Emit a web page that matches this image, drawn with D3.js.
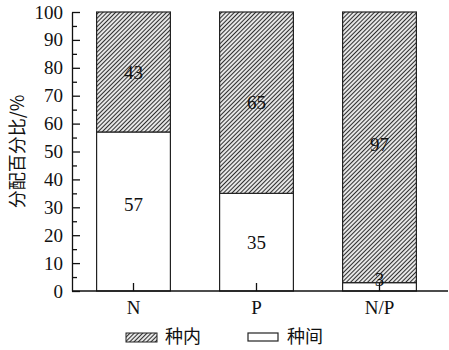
<!DOCTYPE html>
<html>
<head>
<meta charset="utf-8">
<script src="https://cdn.jsdelivr.net/npm/d3@7"></script>
<style>
  html, body { margin: 0; padding: 0; background: #fff; }
  svg { display: block; }
  .num { font-family: "Liberation Serif", "Times New Roman", Tinos, "DejaVu Serif", serif; }
  .cjk { font-family: "Noto Sans CJK SC", "Noto Sans", sans-serif; }
</style>
</head>
<body>
<svg id="chart" width="449" height="350"></svg>
<script>
// Categories and the two components of each stacked bar (percent)
const categories = ["N", "P", "N/P"];
const interValues = [57, 35, 3];   // 种间 (bottom, white)
const intraValues = [43, 65, 97];  // 种内 (top, hatched)
// Where each value label sits, in axis units
const interLabelAt = [31, 17.5, 4];
const intraLabelAt = [78.5, 67.5, 52.5];
const yTicks = [0, 10, 20, 30, 40, 50, 60, 70, 80, 90, 100];
const yMinorTicks = [5, 15, 25, 35, 45, 55, 65, 75, 85, 95];
const legendLabels = ["种内", "种间"];
const yTitle = "分配百分比/%";

(function () {
const svg = d3.select("#chart");

const plotLeft = 72, plotRight = 441, plotTop = 12, plotBottom = 291;

const x = d3.scaleBand().domain(categories).range([plotLeft, plotRight]).paddingInner(0.4).paddingOuter(0.2);
const y = d3.scaleLinear().domain([0, 100]).range([plotBottom, plotTop]);

// Hatch pattern for the 种内 component
const defs = svg.append("defs");
const pat = defs.append("pattern")
  .attr("id", "hatch")
  .attr("patternUnits", "userSpaceOnUse")
  .attr("width", 3).attr("height", 3)
  .attr("patternTransform", "rotate(45)");
pat.append("rect").attr("width", 3).attr("height", 3).attr("fill", "#e6e6e6");
pat.append("line").attr("x1", 0).attr("y1", 0).attr("x2", 0).attr("y2", 3)
  .attr("stroke", "#1a1a1a").attr("stroke-width", 1.8);

const rows = categories.map((c, i) => ({ c, inter: interValues[i], intra: intraValues[i], i }));

// Bottom segment (种间)
svg.append("g").selectAll("rect").data(rows).join("rect")
  .attr("x", d => x(d.c)).attr("width", x.bandwidth())
  .attr("y", d => y(d.inter)).attr("height", d => y(0) - y(d.inter))
  .attr("fill", "#fff").attr("stroke", "#222").attr("stroke-width", 1.2);

// Top segment (种内)
svg.append("g").selectAll("rect").data(rows).join("rect")
  .attr("x", d => x(d.c)).attr("width", x.bandwidth())
  .attr("y", d => y(d.inter + d.intra)).attr("height", d => y(d.inter) - y(d.inter + d.intra))
  .attr("fill", "url(#hatch)").attr("stroke", "#222").attr("stroke-width", 1.2);

// Value labels
const lab = svg.append("g").attr("class", "num").attr("font-size", 19)
  .attr("text-anchor", "middle").attr("fill", "#111");
lab.selectAll("text.inter").data(rows).join("text").attr("class", "inter num")
  .attr("x", d => x(d.c) + x.bandwidth() / 2).attr("y", d => y(interLabelAt[d.i]))
  .attr("dy", "0.35em").text(d => d.inter);
lab.selectAll("text.intra").data(rows).join("text").attr("class", "intra num")
  .attr("x", d => x(d.c) + x.bandwidth() / 2).attr("y", d => y(intraLabelAt[d.i]))
  .attr("dy", "0.35em").text(d => d.intra);

// Y axis: major ticks inward, minor ticks between
svg.append("g").attr("transform", `translate(${plotLeft},0)`)
  .call(d3.axisLeft(y).tickValues(yTicks).tickSizeInner(-8).tickSizeOuter(0).tickPadding(9));
svg.append("g").attr("transform", `translate(${plotLeft},0)`)
  .call(d3.axisLeft(y).tickValues(yMinorTicks).tickSizeInner(-5).tickSizeOuter(0).tickFormat(""))
  .select(".domain").remove();

// X axis with inward ticks at category centres
const xAxis = svg.append("g").attr("transform", `translate(0,${plotBottom})`)
  .call(d3.axisBottom(x).tickSizeInner(-8).tickSizeOuter(0).tickPadding(10));
xAxis.select(".domain").attr("d", `M${plotLeft},0H448`);

svg.selectAll(".tick text").attr("class", "num").attr("font-family", null)
  .attr("font-size", 19).attr("fill", "#111");
svg.selectAll("g[font-family]").attr("font-family", null);
svg.selectAll(".domain, .tick line").attr("stroke", "#111").attr("stroke-width", 1.3);

// Y axis title
svg.append("text").attr("class", "cjk")
  .attr("transform", `translate(18,${(plotTop + plotBottom) / 2}) rotate(-90)`)
  .attr("text-anchor", "middle").attr("dy", "0.35em")
  .attr("font-size", 18).attr("fill", "#111")
  .text(yTitle);

// Legend
const lg = svg.append("g");
lg.append("rect").attr("x", 126).attr("y", 333).attr("width", 31).attr("height", 9)
  .attr("fill", "url(#hatch)").attr("stroke", "#222").attr("stroke-width", 1);
lg.append("text").attr("class", "cjk").attr("x", 165).attr("y", 337).attr("dy", "0.35em")
  .attr("font-size", 18).attr("fill", "#111").text(legendLabels[0]);
lg.append("rect").attr("x", 248).attr("y", 333).attr("width", 30).attr("height", 8)
  .attr("fill", "#fff").attr("stroke", "#222").attr("stroke-width", 1.2);
lg.append("text").attr("class", "cjk").attr("x", 287).attr("y", 337).attr("dy", "0.35em")
  .attr("font-size", 18).attr("fill", "#111").text(legendLabels[1]);
})();
</script>
</body>
</html>
